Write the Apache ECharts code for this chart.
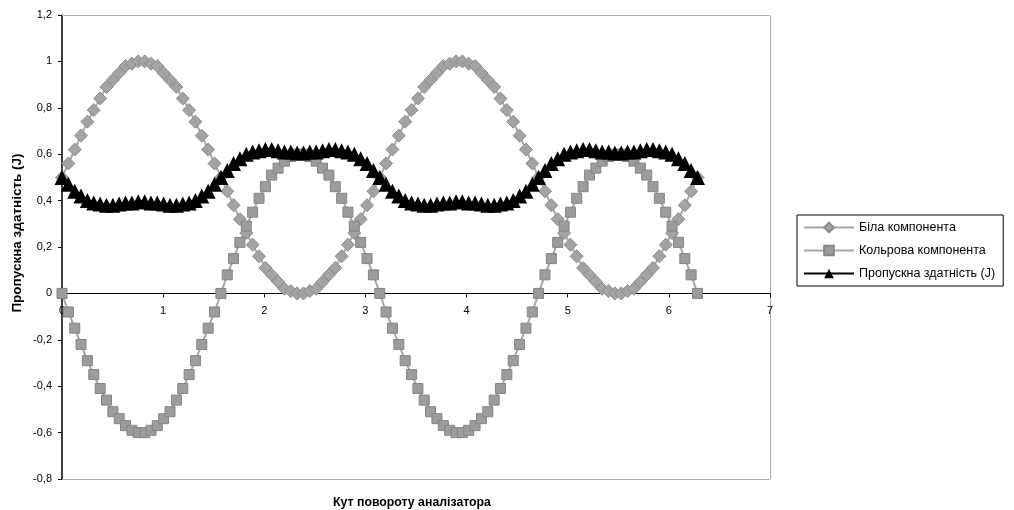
<!DOCTYPE html>
<html>
<head>
<meta charset="utf-8">
<script src="https://cdn.jsdelivr.net/npm/echarts@6/dist/echarts.min.js"></script>
<style>
  html, body { margin: 0; padding: 0; background: #fff; }
  #chart { width: 1014px; height: 510px; }
</style>
</head>
<body>
<div id="chart"></div>
<script>
  // кут повороту (рад)
  const angles = [
    0, 0.063, 0.126, 0.188, 0.251, 0.314, 0.377, 0.440, 0.503, 0.565,
    0.628, 0.691, 0.754, 0.817, 0.880, 0.942, 1.005, 1.068, 1.131, 1.194,
    1.257, 1.319, 1.382, 1.445, 1.508, 1.571, 1.634, 1.696, 1.759, 1.822,
    1.885, 1.948, 2.011, 2.073, 2.136, 2.199, 2.262, 2.325, 2.388, 2.450,
    2.513, 2.576, 2.639, 2.702, 2.765, 2.827, 2.890, 2.953, 3.016, 3.079,
    3.142, 3.204, 3.267, 3.330, 3.393, 3.456, 3.519, 3.581, 3.644, 3.707,
    3.770, 3.833, 3.896, 3.958, 4.021, 4.084, 4.147, 4.210, 4.273, 4.335,
    4.398, 4.461, 4.524, 4.587, 4.650, 4.712, 4.775, 4.838, 4.901, 4.964,
    5.027, 5.089, 5.152, 5.215, 5.278, 5.341, 5.404, 5.466, 5.529, 5.592,
    5.655, 5.718, 5.781, 5.843, 5.906, 5.969, 6.032, 6.095, 6.158, 6.220,
    6.283
  ];
  const whiteComp = [
    0.50, 0.56, 0.62, 0.68, 0.74, 0.79, 0.84, 0.89, 0.92, 0.95, 0.98, 0.99, 1.00,
    1.00, 0.99, 0.98, 0.95, 0.92, 0.89, 0.84, 0.79, 0.74, 0.68, 0.62, 0.56,
    0.50, 0.44, 0.38, 0.32, 0.26, 0.21, 0.16, 0.11, 0.08, 0.05, 0.02, 0.01, 0.00,
    0.00, 0.01, 0.02, 0.05, 0.08, 0.11, 0.16, 0.21, 0.26, 0.32, 0.38, 0.44,
    0.50, 0.56, 0.62, 0.68, 0.74, 0.79, 0.84, 0.89, 0.92, 0.95, 0.98, 0.99, 1.00,
    1.00, 0.99, 0.98, 0.95, 0.92, 0.89, 0.84, 0.79, 0.74, 0.68, 0.62, 0.56,
    0.50, 0.44, 0.38, 0.32, 0.26, 0.21, 0.16, 0.11, 0.08, 0.05, 0.02, 0.01, 0.00,
    0.00, 0.01, 0.02, 0.05, 0.08, 0.11, 0.16, 0.21, 0.26, 0.32, 0.38, 0.44,
    0.50
  ];
  const colorComp = [
    0, -0.08, -0.15, -0.22, -0.29, -0.35, -0.41, -0.46, -0.51, -0.54, -0.57, -0.59, -0.60,
    -0.60, -0.59, -0.57, -0.54, -0.51, -0.46, -0.41, -0.35, -0.29, -0.22, -0.15, -0.08,
    0, 0.08, 0.15, 0.22, 0.29, 0.35, 0.41, 0.46, 0.51, 0.54, 0.57, 0.59, 0.60,
    0.60, 0.59, 0.57, 0.54, 0.51, 0.46, 0.41, 0.35, 0.29, 0.22, 0.15, 0.08,
    0, -0.08, -0.15, -0.22, -0.29, -0.35, -0.41, -0.46, -0.51, -0.54, -0.57, -0.59, -0.60,
    -0.60, -0.59, -0.57, -0.54, -0.51, -0.46, -0.41, -0.35, -0.29, -0.22, -0.15, -0.08,
    0, 0.08, 0.15, 0.22, 0.29, 0.35, 0.41, 0.46, 0.51, 0.54, 0.57, 0.59, 0.60,
    0.60, 0.59, 0.57, 0.54, 0.51, 0.46, 0.41, 0.35, 0.29, 0.22, 0.15, 0.08,
    0
  ];
  const throughput = [
    0.50, 0.47, 0.44, 0.42, 0.40, 0.39, 0.385, 0.38, 0.38, 0.385, 0.39, 0.39, 0.395,
    0.395, 0.39, 0.39, 0.385, 0.38, 0.38, 0.385, 0.39, 0.40, 0.42, 0.44, 0.47,
    0.50, 0.53, 0.56, 0.58, 0.60, 0.61, 0.615, 0.62, 0.62, 0.615, 0.61, 0.61, 0.605,
    0.605, 0.61, 0.61, 0.615, 0.62, 0.62, 0.615, 0.61, 0.60, 0.58, 0.56, 0.53,
    0.50, 0.47, 0.44, 0.42, 0.40, 0.39, 0.385, 0.38, 0.38, 0.385, 0.39, 0.39, 0.395,
    0.395, 0.39, 0.39, 0.385, 0.38, 0.38, 0.385, 0.39, 0.40, 0.42, 0.44, 0.47,
    0.50, 0.53, 0.56, 0.58, 0.60, 0.61, 0.615, 0.62, 0.62, 0.615, 0.61, 0.61, 0.605,
    0.605, 0.61, 0.61, 0.615, 0.62, 0.62, 0.615, 0.61, 0.60, 0.58, 0.56, 0.53,
    0.50
  ];
  const seriesNames = ['Біла компонента', 'Кольрова компонента', 'Пропускна здатність (J)'];
  const xTitle = 'Кут повороту аналізатора';
  const yTitle = 'Пропускна здатність (J)';

  const yMin = -0.8;
  const yMax = 1.2;
  const gridTop = 15;
  const gridBottom = 31;
  const chartH = 510;

  const font = "'Liberation Sans', Arial, sans-serif";
  const pairs = arr => angles.map((a, i) => [a, arr[i]]);

  const chart = echarts.init(document.getElementById('chart'), null, { renderer: 'canvas' });

  // x axis sits on the zero line: shift it up from the grid bottom
  const plotH = chartH - gridTop - gridBottom;
  const zeroOffset = plotH * (0 - yMin) / (yMax - yMin);

  const borderAxis = {
    type: 'value',
    min: 0,
    max: 7,
    axisLine: { show: true, onZero: false, lineStyle: { color: '#9a9a9a', type: 'dotted', width: 1 } },
    axisTick: { show: false },
    axisLabel: { show: false },
    splitLine: { show: false },
  };

  chart.setOption({
    animation: false,
    backgroundColor: '#fff',
    textStyle: { fontFamily: font },
    grid: { left: 62, right: 244, top: gridTop, bottom: gridBottom },
    xAxis: [
      { ...borderAxis, position: 'top' },
      { ...borderAxis, position: 'bottom' },
      {
        type: 'value',
        min: 0,
        max: 7,
        interval: 1,
        position: 'bottom',
        offset: -zeroOffset,
        axisLine: { onZero: false, lineStyle: { color: '#000', width: 1.2 } },
        axisTick: { show: true, length: 4, lineStyle: { color: '#000' } },
        axisLabel: { color: '#000', fontSize: 11, margin: 12, fontFamily: font },
        splitLine: { show: false },
      },
    ],
    yAxis: [
      {
        type: 'value',
        min: yMin,
        max: yMax,
        interval: 0.2,
        axisLine: { show: true, onZero: false, lineStyle: { color: '#000', width: 1.5 } },
        axisTick: { show: true, length: 4, lineStyle: { color: '#000' } },
        axisLabel: {
          color: '#000', fontSize: 11, margin: 10, fontFamily: font,
          formatter: v => String(Math.round(v * 10) / 10).replace('.', ','),
        },
        splitLine: { show: false },
      },
      { ...borderAxis, min: yMin, max: yMax, position: 'right' },
    ],
    legend: {
      orient: 'vertical',
      left: 797,
      top: 215,
      padding: [6, 8, 6, 6],
      itemWidth: 50,
      itemHeight: 12,
      itemGap: 10,
      borderColor: '#000',
      borderWidth: 1,
      backgroundColor: '#fff',
      textStyle: { color: '#000', fontSize: 12.5, fontFamily: font },
      data: seriesNames,
    },
    graphic: [
      {
        type: 'text',
        x: 17,
        y: 233,
        rotation: Math.PI / 2,
        style: {
          text: yTitle, fill: '#000', font: 'bold 13.5px ' + font,
          textAlign: 'center', textVerticalAlign: 'middle',
        },
      },
      {
        type: 'text',
        x: 412,
        y: 503,
        style: {
          text: xTitle, fill: '#000', font: 'bold 12.3px ' + font,
          textAlign: 'center', textVerticalAlign: 'middle',
        },
      },
    ],
    series: [
      {
        name: seriesNames[0],
        type: 'line',
        xAxisIndex: 2,
        data: pairs(whiteComp),
        symbol: 'diamond',
        symbolSize: 13,
        showAllSymbol: true,
        lineStyle: { color: '#a8a8a8', width: 2 },
        itemStyle: { color: '#a3a3a3', borderColor: '#8c8c8c', borderWidth: 1 },
      },
      {
        name: seriesNames[1],
        type: 'line',
        xAxisIndex: 2,
        data: pairs(colorComp),
        symbol: 'rect',
        symbolSize: 10,
        showAllSymbol: true,
        lineStyle: { color: '#a8a8a8', width: 2 },
        itemStyle: { color: '#9c9c9c', borderColor: '#858585', borderWidth: 1 },
      },
      {
        name: seriesNames[2],
        type: 'line',
        xAxisIndex: 2,
        data: pairs(throughput),
        symbol: 'triangle',
        symbolSize: 15,
        showAllSymbol: true,
        lineStyle: { color: '#000', width: 3 },
        itemStyle: { color: '#000' },
      },
    ],
  });
</script>
</body>
</html>
